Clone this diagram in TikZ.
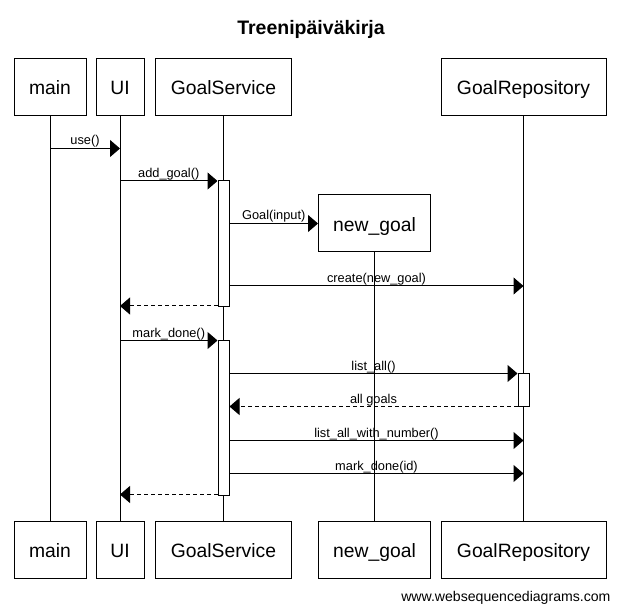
\documentclass[tikz,border=0pt]{standalone}
\usepackage{fontspec}
\setmainfont{Liberation Sans}
\usetikzlibrary{arrows.meta}
\begin{document}
\begin{tikzpicture}[x=1pt,y=-1pt,line width=1pt,
  actor/.style={draw, fill=white, minimum height=57pt, inner sep=0pt, text height=15.5pt, text depth=0pt, font=\fontsize{19.3}{21}\selectfont},
  actbar/.style={draw, fill=white, minimum width=11pt, inner sep=0pt},
  msg/.style={-{Triangle[length=10pt,width=17pt]}},
  ret/.style={msg, dash pattern=on 4pt off 3pt},
  lbl/.style={anchor=base, yshift=3.5pt, inner sep=0pt, font=\fontsize{12.8}{14}\selectfont},
  life/.style={line width=1pt}]
\useasboundingbox[fill=white] (0,0) rectangle (621,612);

\node[anchor=base, font=\fontsize{19.5}{22}\selectfont\bfseries] (title) at (311,34.5) {Treenipäiväkirja};

% participants (top)
\node[actor, minimum width=72pt] (mainT) at (50,87) {main};
\node[actor, minimum width=48pt] (uiT) at (120,87) {UI};
\node[actor, minimum width=136pt] (gsT) at (223.5,87) {GoalService};
\node[actor, minimum width=165pt] (grT) at (523.5,87) {GoalRepository};
\node[actor, minimum width=112pt] (ngT) at (374.5,223.5) {new\_goal};
% participants (bottom)
\node[actor, minimum width=72pt] (mainB) at (50,550) {main};
\node[actor, minimum width=48pt] (uiB) at (120,550) {UI};
\node[actor, minimum width=136pt] (gsB) at (223.5,550) {GoalService};
\node[actor, minimum width=112pt] (ngB) at (374.5,550) {new\_goal};
\node[actor, minimum width=165pt] (grB) at (523.5,550) {GoalRepository};

% lifelines
\draw[life] (mainT) -- (mainB);
\draw[life] (uiT) -- (uiB);
\draw[life] (gsT) -- (gsB);
\draw[life] (ngT) -- (ngB);
\draw[life] (grT) -- (grB);

% activation bars
\node[actbar, minimum height=125.5pt] (act1) at (223.5,243.75) {};
\node[actbar, minimum height=154.5pt] (act2) at (223.5,417.75) {};
\node[actbar, minimum height=33pt] (act3) at (523.5,390) {};

% message rows
\coordinate (m1) at (0,148.5);
\coordinate (m2) at (0,181);
\coordinate (m4) at (0,286);
\coordinate (m5) at (0,306);
\coordinate (m6) at (0,340.5);
\coordinate (m7) at (0,373.5);
\coordinate (m8) at (0,406.5);
\coordinate (m9) at (0,440.5);
\coordinate (m10) at (0,473.5);
\coordinate (m11) at (0,494.5);

\draw[msg] (mainT.south |- m1) -- node[lbl]{use()} (uiT.south |- m1);
\draw[msg] (uiT.south |- m2) -- node[lbl]{add\_goal()} (act1.west |- m2);
\draw[msg] (act1.east |- ngT.west) -- node[lbl]{Goal(input)} (ngT.west);
\draw[msg] (act1.east |- m4) -- node[lbl]{create(new\_goal)} (grT.south |- m4);
\draw[ret] (act1.west |- m5) -- (uiT.south |- m5);
\draw[msg] (uiT.south |- m6) -- node[lbl]{mark\_done()} (act2.west |- m6);
\draw[msg] (act2.east |- m7) -- node[lbl]{list\_all()} (act3.west |- m7);
\draw[ret] (act3.west |- m8) -- node[lbl]{all goals} (act2.east |- m8);
\draw[msg] (act2.east |- m9) -- node[lbl]{list\_all\_with\_number()} (grT.south |- m9);
\draw[msg] (act2.east |- m10) -- node[lbl]{mark\_done(id)} (grT.south |- m10);
\draw[ret] (act2.west |- m11) -- (uiT.south |- m11);

\node[anchor=base east, inner sep=0pt, font=\fontsize{14.1}{16}\selectfont] (wsd) at (611,601) {www.websequencediagrams.com};
\end{tikzpicture}
\end{document}
